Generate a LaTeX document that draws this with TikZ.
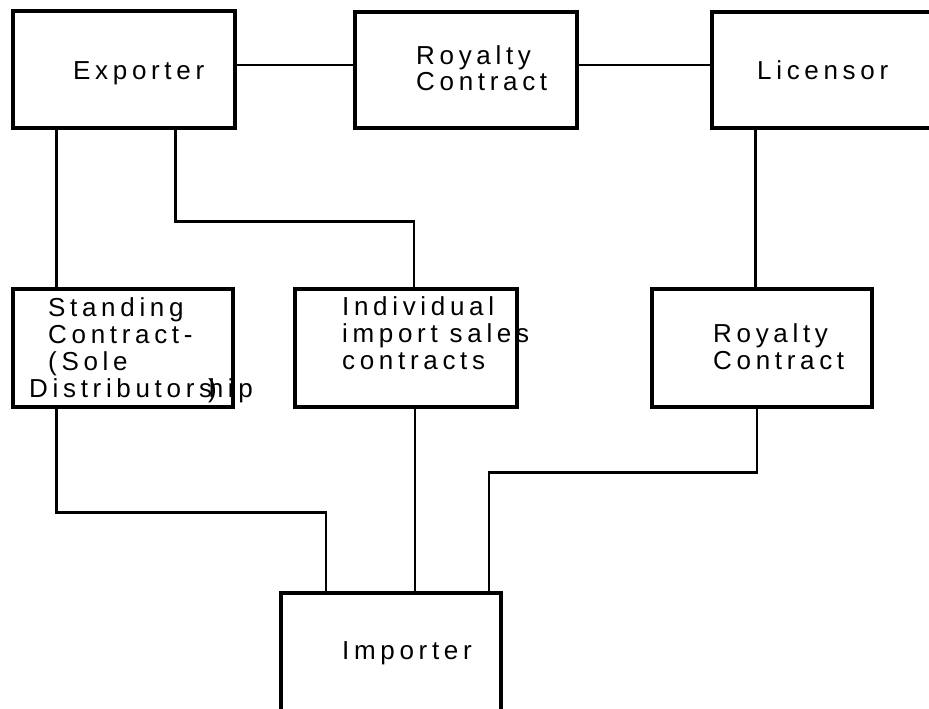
\documentclass[tikz,border=0pt]{standalone}
\usepackage{fontspec}
\newfontfamily\labfont[LetterSpace=18]{Liberation Sans}
\begin{document}
\begin{tikzpicture}[x=1pt,y=-1pt,
  box/.style={draw, line width=3.2pt, rectangle, inner sep=0pt, minimum width=222pt, minimum height=117pt},
  conn/.style={draw, line width=2.2pt},
  lab/.style={font=\labfont\fontsize{26}{27}\selectfont, inner sep=0pt, anchor=base west, align=left}]
\useasboundingbox (0,0) rectangle (929,709);
% boxes
\node[box] (exp) at (124,69.5) {};
\node[box, minimum height=116pt] (roy1) at (466,70) {};
\node[box, minimum width=228pt, minimum height=116pt] (lic) at (826,70) {};
\node[box, minimum width=220pt, minimum height=118pt] (std) at (123,348) {};
\node[box, minimum height=118pt] (ind) at (406,348) {};
\node[box, minimum width=220pt, minimum height=118pt] (roy2) at (762,348) {};
\node[box, minimum width=220pt, minimum height=127pt] (imp) at (391,656.5) {};
% texts (anchored at the baseline of the last line)
\node[lab] (texp) at (73,79) {Exporter};
\node[lab] (troy1) at (416,91) {Royalty\\Contract};
\node[lab] (tlic) at (757,79) {Licensor};
\node[lab] (tstd) at (48,397) {Standing\\Contract-\\(Sole\\\hspace*{-19pt}Distributors\kern-4pt)\kern-8pt hip};
\node[lab] (tind) at (342,369) {Individual\\import sales\\contracts};
\node[lab] (troy2) at (713,369) {Royalty\\Contract};
\node[lab] (timp) at (342,659) {Importer};
% connectors
\draw[conn] ([yshift=4.5pt]exp.east) -- ([yshift=4.5pt]exp.east -| roy1.west);
\draw[conn] ([yshift=5pt]roy1.east) -- ([yshift=5pt]roy1.east -| lic.west);
\draw[conn] ([xshift=45pt]exp.south west) -- ([xshift=45pt]exp.south west |- std.north);
\draw[conn] ([xshift=164pt]exp.south west) |- ([xshift=8pt,yshift=66pt]ind.north) -- ([xshift=8pt]ind.north);
\draw[conn] ([xshift=45pt]lic.south west) -- ([xshift=45pt]lic.south west |- roy2.north);
\draw[conn] ([xshift=45pt]std.south west) |- ([xshift=-65pt,yshift=79pt]imp.north) -- ([xshift=-65pt]imp.north);
\draw[conn] ([xshift=9pt]ind.south) -- ([xshift=9pt]ind.south |- imp.north);
\draw[conn] ([xshift=-5pt]roy2.south) |- ([xshift=98pt,yshift=119pt]imp.north) -- ([xshift=98pt]imp.north);
\end{tikzpicture}
\end{document}
